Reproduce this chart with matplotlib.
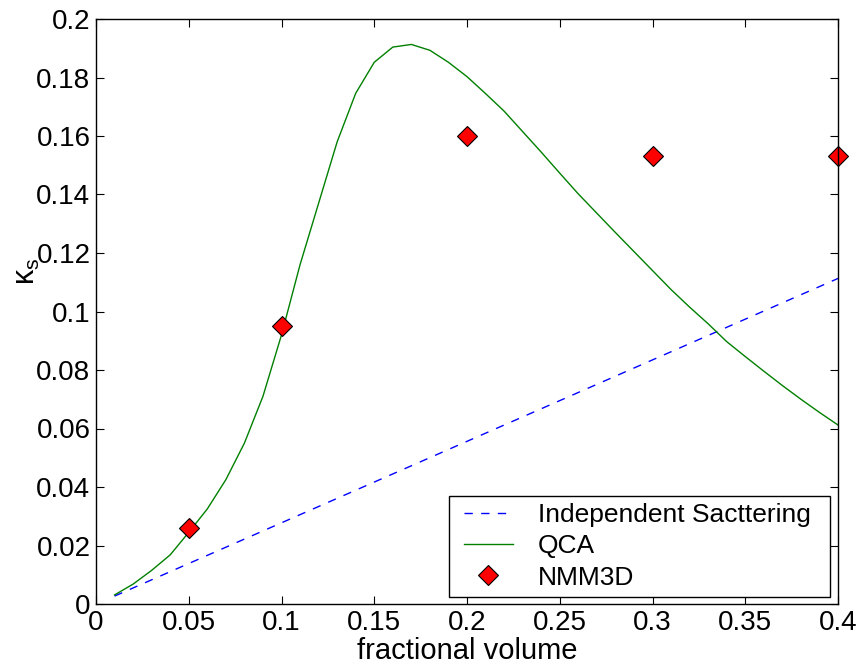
import matplotlib
matplotlib.use("Agg")
import matplotlib.pyplot as plt
from matplotlib.patches import Rectangle

plt.rcParams['font.family'] = ['Liberation Sans', 'DejaVu Sans']
plt.rcParams['mathtext.fontset'] = 'custom'
plt.rcParams['mathtext.rm'] = 'Liberation Sans'
plt.rcParams['mathtext.it'] = 'Liberation Sans'

# Independent scattering (straight line)
ind_x = [0.01, 0.4]
ind_y = [0.0027, 0.1113]

# QCA
qca_x = [0.01, 0.02, 0.03, 0.04, 0.05, 0.06, 0.07, 0.08, 0.09, 0.10,
         0.11, 0.12, 0.13, 0.14, 0.15, 0.16, 0.17, 0.18, 0.19, 0.20,
         0.21, 0.22, 0.23, 0.24, 0.25, 0.26, 0.27, 0.28, 0.29, 0.30,
         0.31, 0.32, 0.33, 0.34, 0.35, 0.36, 0.37, 0.38, 0.39, 0.40]
qca_y = [0.0031, 0.0068, 0.0115, 0.0168, 0.0245, 0.0325, 0.0425, 0.055, 0.071, 0.092,
         0.116, 0.137, 0.158, 0.1746, 0.1852, 0.1904, 0.1913, 0.1893, 0.1852, 0.1803,
         0.1745, 0.1685, 0.1615, 0.1545, 0.1473, 0.1402, 0.1336, 0.1270, 0.1205, 0.1140,
         0.1075, 0.1015, 0.0958, 0.0897, 0.0846, 0.0796, 0.0747, 0.0700, 0.0655, 0.0612]

# NMM3D
nmm_x = [0.05, 0.1, 0.2, 0.3, 0.4]
nmm_y = [0.026, 0.095, 0.160, 0.153, 0.153]

W, H = 868, 664
fig = plt.figure(figsize=(W / 100, H / 100), dpi=100)
ax = fig.add_axes([96/W, 1-604/H, (838-96)/W, (604-19)/H])

ax.plot(ind_x, ind_y, color=(0, 0, 1), linestyle=(0, (6, 6)), linewidth=1.0,
        label='Independent Sacttering')
ax.plot(qca_x, qca_y, color=(0, 0.5, 0), linewidth=1.0, label='QCA')
ax.plot(nmm_x, nmm_y, linestyle='none', marker='D', markersize=10,
        markerfacecolor='red', markeredgecolor='black', markeredgewidth=0.8,
        label='NMM3D', clip_on=False)

ax.set_xlim(0, 0.4)
ax.set_ylim(0, 0.2)
ax.set_xticks([0, 0.05, 0.1, 0.15, 0.2, 0.25, 0.3, 0.35, 0.4])
ax.set_xticklabels(['0', '0.05', '0.1', '0.15', '0.2', '0.25', '0.3', '0.35', '0.4'])
ax.set_yticks([0, 0.02, 0.04, 0.06, 0.08, 0.1, 0.12, 0.14, 0.16, 0.18, 0.2])
ax.set_yticklabels(['0', '0.02', '0.04', '0.06', '0.08', '0.1', '0.12', '0.14',
                    '0.16', '0.18', '0.2'])
ax.tick_params(direction='in', top=True, right=True, labelsize=20, length=6,
               width=0.8, pad=4)
for s in ax.spines.values():
    s.set_linewidth(1.0)

ax.set_xlabel('fractional volume', fontsize=21, labelpad=1)
ax.set_ylabel(r'$\mathrm{\kappa_s}$', fontsize=22)
ax.yaxis.set_label_coords(-0.073, 0.568)

# legend (frame drawn separately so horizontal padding can exceed vertical)
leg = ax.legend(loc='lower right', bbox_to_anchor=((818 - 96) / 742, (604 - 597) / 585),
                fontsize=19, frameon=False, handlelength=1.85, borderaxespad=0.0,
                labelspacing=0.27, borderpad=0.28, handletextpad=0.95)
fig.canvas.draw()
bb = leg.get_window_extent().transformed(fig.transFigure.inverted())
padl, padr = 7.5 / W, 12.5 / W
frame = Rectangle((bb.x0 - padl, bb.y0), bb.width + padl + padr, bb.height,
                  transform=fig.transFigure, facecolor='white', edgecolor='black',
                  linewidth=1.0, zorder=4)
fig.add_artist(frame)
leg.set_zorder(5)
ax.set_zorder(1)
leg.remove()
fig.legends.append(leg)
leg.set_figure(fig)

fig.savefig('out.png', dpi=100, facecolor='white')
